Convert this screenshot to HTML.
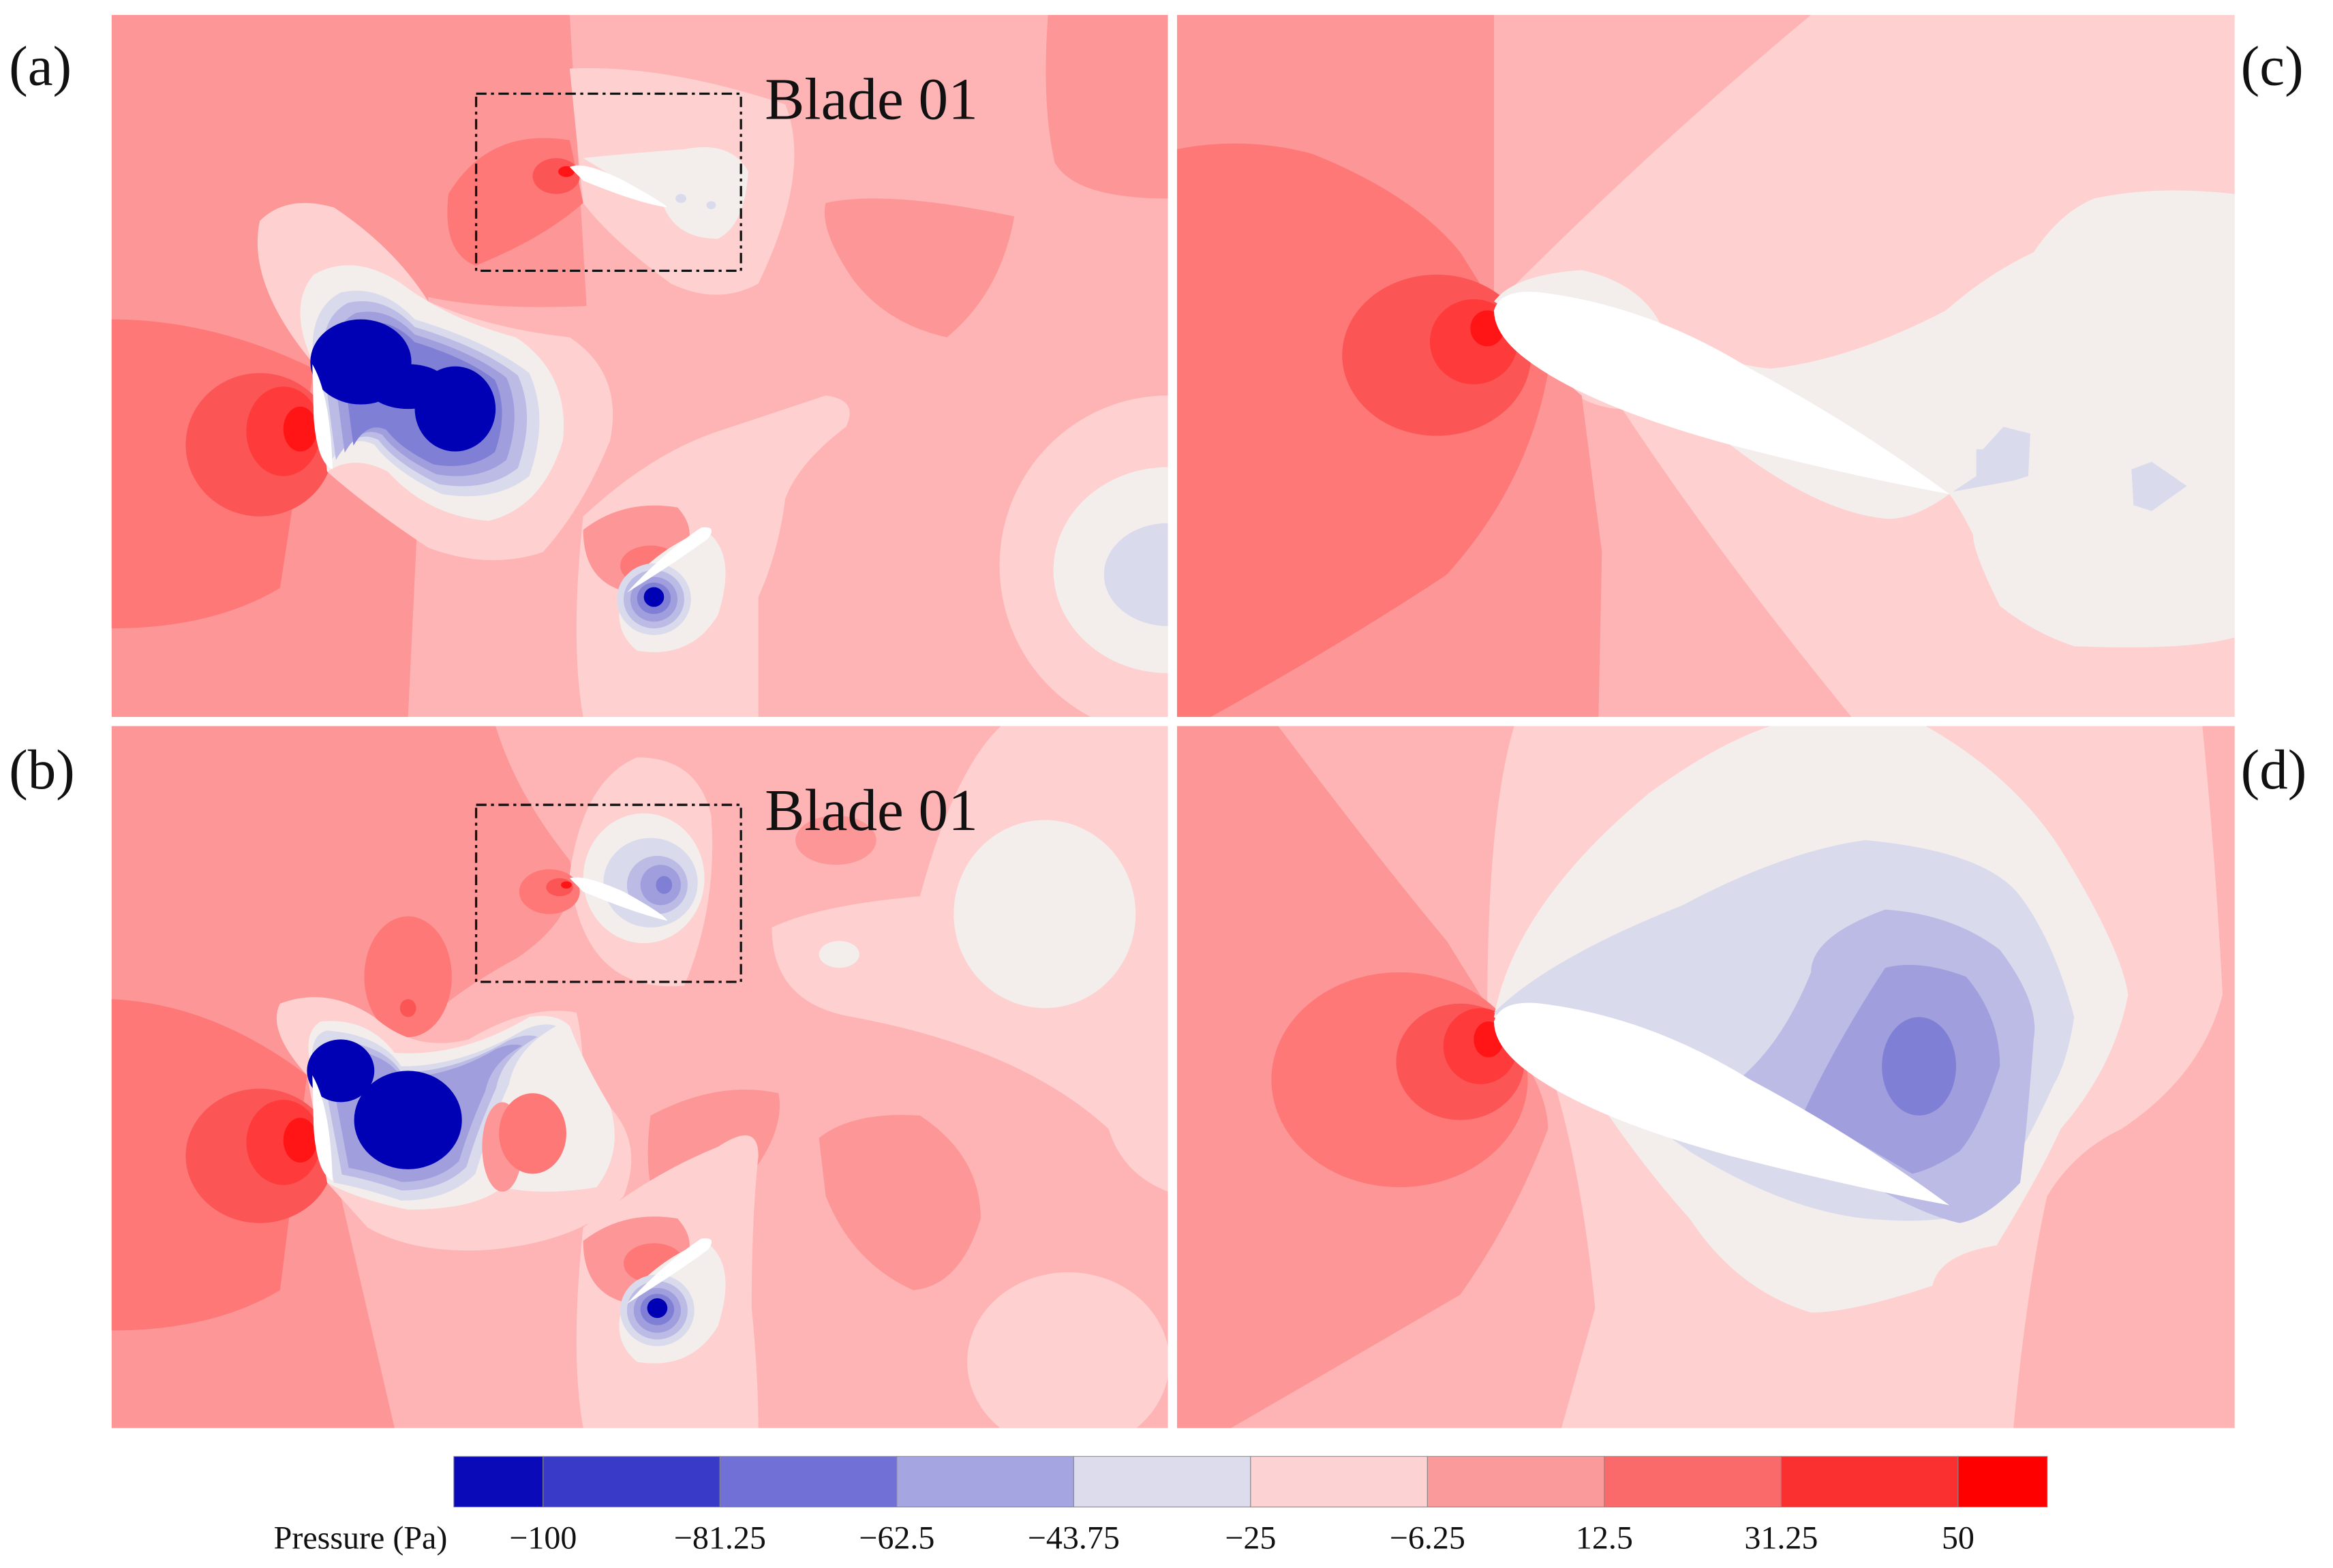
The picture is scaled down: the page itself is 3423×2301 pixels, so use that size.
<!DOCTYPE html>
<html><head><meta charset="utf-8">
<style>
html,body{margin:0;padding:0;background:#fff;}
svg{display:block;}
text{font-family:"Liberation Serif",serif;fill:#111;}
</style></head>
<body>
<svg id="fig" width="3423" height="2301" viewBox="0 0 1568 1054" preserveAspectRatio="none" xmlns="http://www.w3.org/2000/svg">
<defs>
<clipPath id="cz"><rect x="0" y="0" width="1568" height="1568"/></clipPath>
<path id="bladeBig" d="M470 660 Q480 610 540 620 Q700 650 850 790 Q1000 910 1145 1070 Q1000 1030 820 960 Q600 870 510 760 Q470 710 470 660Z" fill="#fff"/>
</defs>

<!-- Panel a -->
<g transform="translate(75,10) scale(0.4528,0.301)" clip-path="url(#cz)">
<rect width="1568" height="1568" fill="#feb4b4"/>
<path d="M0 0 H680 L705 650 Q560 660 470 630 L440 1568 H0Z" fill="#fd9797"/>
<path d="M1390 0 H1568 V410 Q1430 410 1400 330 Q1380 200 1390 0Z" fill="#fd9797"/>
<path d="M1060 420 Q1150 390 1340 450 Q1320 620 1240 720 Q1150 690 1100 590 Q1050 480 1060 420Z" fill="#fd9797"/>
<path d="M0 680 Q150 680 300 790 L250 1280 Q150 1370 0 1370Z" fill="#fe7878"/>
<ellipse cx="220" cy="960" rx="110" ry="160" fill="#fb5555"/>
<ellipse cx="255" cy="930" rx="55" ry="100" fill="#fe3a3a"/>
<ellipse cx="280" cy="925" rx="25" ry="50" fill="#ff1515"/>
<path d="M300 780 Q200 600 220 460 Q260 400 330 430 Q420 520 470 640 Q560 700 680 720 Q760 800 740 950 Q700 1100 640 1200 Q560 1240 470 1190 Q380 1100 320 1020Z" fill="#fed0d0"/>
<path d="M300 780 Q260 650 300 580 Q360 530 430 600 Q500 680 600 720 Q680 800 670 950 Q640 1100 560 1130 Q470 1120 410 1020 Q360 980 320 1020Z" fill="#f3eeec"/>
<g id="blobA">
<path d="M300 780 Q290 660 340 620 Q400 600 450 680 Q560 730 620 800 Q650 900 620 1030 Q570 1090 490 1070 Q420 1020 390 960 Q350 930 320 1010Z" fill="#d9daec"/>
<path transform="translate(450 850) scale(0.9) translate(-450 -850)" d="M300 780 Q290 660 340 620 Q400 600 450 680 Q560 730 620 800 Q650 900 620 1030 Q570 1090 490 1070 Q420 1020 390 960 Q350 930 320 1010Z" fill="#bcbbe5"/>
<path transform="translate(450 850) scale(0.8) translate(-450 -850)" d="M300 780 Q290 660 340 620 Q400 600 450 680 Q560 730 620 800 Q650 900 620 1030 Q570 1090 490 1070 Q420 1020 390 960 Q350 930 320 1010Z" fill="#a09edd"/>
<path transform="translate(450 850) scale(0.7) translate(-450 -850)" d="M300 780 Q290 660 340 620 Q400 600 450 680 Q560 730 620 800 Q650 900 620 1030 Q570 1090 490 1070 Q420 1020 390 960 Q350 930 320 1010Z" fill="#7f7fd6"/>
</g>
<ellipse cx="370" cy="775" rx="75" ry="95" fill="#0000b4"/>
<ellipse cx="510" cy="880" rx="60" ry="95" fill="#0000b4"/>
<ellipse cx="440" cy="830" rx="60" ry="50" fill="#0000b4"/>
<path d="M298 780 Q325 850 328 1015 Q305 1000 300 900Z" fill="#fff"/>
<path d="M680 120 Q820 110 1000 200 Q1040 350 960 600 Q900 650 830 600 Q740 500 700 420Z" fill="#fed0d0"/>
<path d="M680 280 Q560 250 500 400 Q490 530 540 560 Q640 500 700 420Z" fill="#fe7878"/>
<ellipse cx="660" cy="360" rx="35" ry="40" fill="#fb5555"/>
<circle cx="675" cy="350" r="12" fill="#ff1515"/>
<path d="M700 320 Q760 310 850 300 Q920 280 945 350 Q940 470 900 500 Q840 500 820 430Z" fill="#f3eeec"/>
<path d="M680 340 Q700 325 760 370 Q820 420 825 430 Q780 420 700 370Z" fill="#fff"/>
<ellipse cx="845" cy="410" rx="8" ry="10" fill="#d9daec"/>
<ellipse cx="890" cy="425" rx="7" ry="9" fill="#d9daec"/>
<path d="M700 1120 Q800 980 900 930 Q1000 880 1060 850 Q1110 860 1090 920 Q1020 1000 1000 1080 Q990 1200 960 1300 Q960 1450 960 1568 H700 Q680 1400 700 1120Z" fill="#fed0d0"/>
<path d="M700 1150 Q760 1080 840 1100 Q870 1150 850 1200 L770 1290 Q700 1270 700 1150Z" fill="#fd9797"/>
<circle cx="800" cy="1230" r="45" fill="#fe7878"/>
<path d="M760 1290 Q800 1200 880 1150 Q930 1200 900 1340 Q860 1440 780 1420 Q740 1370 760 1290Z" fill="#f3eeec"/>
<ellipse cx="805" cy="1305" rx="55" ry="80" fill="#d9daec"/>
<ellipse cx="805" cy="1305" rx="45" ry="65" fill="#bcbbe5"/>
<ellipse cx="805" cy="1305" rx="35" ry="50" fill="#a09edd"/>
<ellipse cx="805" cy="1303" rx="25" ry="35" fill="#7f7fd6"/>
<ellipse cx="805" cy="1300" rx="15" ry="22" fill="#0000b4"/>
<path d="M765 1290 Q820 1200 875 1145 Q900 1140 885 1170 Q830 1230 765 1290Z" fill="#fff"/>
<ellipse cx="1568" cy="1230" rx="250" ry="380" fill="#fed0d0"/>
<ellipse cx="1568" cy="1240" rx="170" ry="230" fill="#f3eeec"/>
<ellipse cx="1568" cy="1250" rx="95" ry="115" fill="#d9daec"/>
</g>

<!-- Panel b -->
<g transform="translate(75,488) scale(0.4528,0.301)" clip-path="url(#cz)">
<rect width="1568" height="1568" fill="#feb4b4"/>
<path d="M0 0 H570 Q600 150 680 300 Q700 420 600 520 Q500 600 420 720 L300 790 L420 1568 H0Z" fill="#fd9797"/>
<path d="M980 450 Q1050 400 1200 380 Q1250 100 1320 0 H1568 V1040 Q1500 1000 1480 900 Q1350 720 1100 650 Q980 620 980 450Z" fill="#fed0d0"/>
<ellipse cx="1385" cy="420" rx="135" ry="210" fill="#f3eeec"/>
<circle cx="1080" cy="510" r="30" fill="#f3eeec"/>
<ellipse cx="1075" cy="255" rx="60" ry="55" fill="#fd9797"/>
<path d="M1050 920 Q1100 860 1200 870 Q1290 960 1290 1100 Q1260 1250 1190 1260 Q1100 1200 1060 1050Z" fill="#fd9797"/>
<path d="M800 870 Q900 790 990 820 Q1000 900 950 1000 Q870 1100 860 1150 Q780 1100 800 870Z" fill="#fd9797"/>
<ellipse cx="1420" cy="1420" rx="150" ry="200" fill="#fed0d0"/>
<path d="M0 610 Q150 620 290 780 L250 1260 Q150 1350 0 1350Z" fill="#fe7878"/>
<ellipse cx="220" cy="960" rx="110" ry="150" fill="#fb5555"/>
<ellipse cx="255" cy="930" rx="55" ry="95" fill="#fe3a3a"/>
<ellipse cx="280" cy="925" rx="25" ry="50" fill="#ff1515"/>
<ellipse cx="440" cy="560" rx="65" ry="135" fill="#fe7878"/>
<ellipse cx="440" cy="630" rx="12" ry="20" fill="#fb5555"/>
<path d="M680 330 Q700 120 780 70 Q870 70 890 200 Q900 400 850 580 Q700 600 680 330Z" fill="#fed0d0"/>
<ellipse cx="790" cy="340" rx="90" ry="145" fill="#f3eeec"/>
<ellipse cx="800" cy="350" rx="70" ry="100" fill="#d9daec"/>
<ellipse cx="810" cy="355" rx="45" ry="65" fill="#bcbbe5"/>
<ellipse cx="815" cy="355" rx="30" ry="45" fill="#a09edd"/>
<ellipse cx="820" cy="355" rx="12" ry="20" fill="#7f7fd6"/>
<ellipse cx="650" cy="370" rx="45" ry="50" fill="#fe7878"/>
<circle cx="665" cy="360" r="20" fill="#fb5555"/>
<circle cx="675" cy="355" r="8" fill="#ff1515"/>
<path d="M680 340 Q700 330 760 370 Q820 420 825 435 Q780 420 700 370Z" fill="#fff"/>
<path d="M290 780 Q230 680 250 620 Q320 580 390 650 Q450 730 530 700 Q620 620 690 640 Q700 700 700 800 Q800 900 760 1050 Q700 1150 560 1170 Q450 1180 380 1120 L320 1020Z" fill="#fed0d0"/>
<path d="M300 780 Q280 690 310 660 Q380 650 420 730 Q520 740 620 650 Q660 640 680 670 Q700 750 740 850 Q760 950 720 1030 Q640 1050 580 1030 Q540 1080 440 1080 Q370 1060 320 1020Z" fill="#f3eeec"/>
<path d="M300 780 Q290 690 320 680 Q400 690 430 760 Q520 760 610 680 Q640 660 660 670 Q600 720 590 800 Q560 900 540 1000 Q500 1060 430 1060 Q370 1030 330 1020Z" fill="#d9daec"/>
<path transform="translate(430 870) scale(0.88) translate(-430 -870)" d="M300 780 Q290 690 320 680 Q400 690 430 760 Q520 760 610 680 Q640 660 660 670 Q600 720 590 800 Q560 900 540 1000 Q500 1060 430 1060 Q370 1030 330 1020Z" fill="#bcbbe5"/>
<path transform="translate(430 870) scale(0.78) translate(-430 -870)" d="M300 780 Q290 690 320 680 Q400 690 430 760 Q520 760 610 680 Q640 660 660 670 Q600 720 590 800 Q560 900 540 1000 Q500 1060 430 1060 Q370 1030 330 1020Z" fill="#a09edd"/>
<ellipse cx="340" cy="770" rx="50" ry="70" fill="#0000b4"/>
<ellipse cx="440" cy="880" rx="80" ry="110" fill="#0000b4"/>
<ellipse cx="580" cy="940" rx="30" ry="100" fill="#fd9797"/>
<ellipse cx="625" cy="910" rx="50" ry="90" fill="#fe7878"/>
<path d="M298 780 Q325 850 328 1015 Q305 1000 300 900Z" fill="#fff"/>
<path d="M700 1120 Q800 1000 900 940 Q960 880 960 960 Q950 1100 950 1300 Q960 1450 960 1568 H700 Q680 1400 700 1120Z" fill="#fed0d0"/>
<path d="M700 1150 Q760 1080 840 1100 Q870 1150 850 1200 L770 1290 Q700 1270 700 1150Z" fill="#fd9797"/>
<circle cx="805" cy="1200" r="45" fill="#fe7878"/>
<path d="M760 1290 Q800 1200 880 1150 Q930 1200 900 1340 Q860 1440 780 1420 Q740 1370 760 1290Z" fill="#f3eeec"/>
<ellipse cx="810" cy="1305" rx="55" ry="80" fill="#d9daec"/>
<ellipse cx="810" cy="1305" rx="45" ry="65" fill="#bcbbe5"/>
<ellipse cx="810" cy="1305" rx="35" ry="50" fill="#a09edd"/>
<ellipse cx="810" cy="1303" rx="25" ry="35" fill="#7f7fd6"/>
<ellipse cx="810" cy="1300" rx="15" ry="22" fill="#0000b4"/>
<path d="M765 1290 Q820 1200 875 1145 Q900 1140 885 1170 Q830 1230 765 1290Z" fill="#fff"/>
</g>

<!-- Panel c -->
<g transform="translate(791,10) scale(0.4534,0.301)" clip-path="url(#cz)">
<rect width="1568" height="1568" fill="#fed0d0"/>
<path d="M0 0 H940 Q700 300 470 650 L0 650Z" fill="#feb4b4"/>
<path d="M400 700 L530 780 Q600 880 660 880 Q800 1200 1000 1568 H400Z" fill="#feb4b4"/>
<path d="M0 0 H470 L470 650 Q560 800 600 850 L630 1200 L625 1568 H0Z" fill="#fd9797"/>
<path d="M0 300 Q100 270 200 310 Q350 400 420 530 L470 650 Q540 760 550 800 Q520 1050 400 1250 Q250 1400 50 1568 H0Z" fill="#fe7878"/>
<ellipse cx="385" cy="760" rx="140" ry="180" fill="#fb5555"/>
<ellipse cx="440" cy="730" rx="65" ry="95" fill="#fe3a3a"/>
<ellipse cx="460" cy="700" rx="25" ry="40" fill="#ff1515"/>
<path d="M470 640 Q500 580 600 570 Q690 600 720 700 Q800 780 880 790 Q1000 770 1140 660 Q1200 580 1270 530 Q1310 440 1360 410 Q1450 380 1568 400 V1390 Q1500 1420 1330 1410 Q1270 1380 1220 1320 Q1180 1200 1180 1160 Q1160 1100 1145 1070 Q1090 1130 1050 1125 Q950 1110 820 960Z" fill="#f3eeec"/>
<use href="#bladeBig"/>
<path d="M1195 970 L1225 920 L1265 935 L1262 1030 L1240 1040 L1150 1065 L1185 1030 L1185 970Z" fill="#d9daec"/>
<path d="M1415 1015 L1445 998 L1497 1052 L1445 1108 L1418 1095Z" fill="#d9daec"/>
</g>

<!-- Panel d -->
<g transform="translate(791,488) scale(0.4534,0.301)" clip-path="url(#cz)">
<rect width="1568" height="1568" fill="#fed0d0"/>
<path d="M0 0 H500 Q460 200 460 640 L560 800 Q600 1000 620 1300 L570 1568 H0Z" fill="#feb4b4"/>
<path d="M1520 0 H1568 V1568 H1240 Q1260 1250 1290 1050 Q1330 950 1400 900 Q1520 780 1550 600 Q1540 300 1520 0Z" fill="#feb4b4"/>
<path d="M0 0 H150 Q300 300 400 480 L470 650 Q550 800 550 900 Q500 1100 420 1270 Q250 1420 80 1568 H0Z" fill="#fd9797"/>
<ellipse cx="330" cy="790" rx="190" ry="240" fill="#fe7878"/>
<ellipse cx="420" cy="750" rx="95" ry="130" fill="#fb5555"/>
<ellipse cx="450" cy="715" rx="55" ry="85" fill="#fe3a3a"/>
<ellipse cx="462" cy="700" rx="22" ry="40" fill="#ff1515"/>
<path d="M470 650 Q500 400 700 150 Q800 40 880 0 H1110 Q1250 120 1320 300 Q1400 500 1410 600 Q1390 760 1310 900 Q1280 1000 1215 1160 Q1130 1180 1120 1250 Q1000 1310 940 1310 Q830 1260 760 1100 Q700 1000 640 870Z" fill="#f3eeec"/>
<path d="M470 640 Q550 520 750 400 Q900 280 1020 255 Q1200 280 1250 380 Q1300 480 1330 650 Q1320 750 1300 800 Q1240 1000 1180 1100 Q1150 1110 1140 1100 Q1090 1110 1020 1100 Q900 1080 760 950Z" fill="#d9daec"/>
<path d="M840 780 Q900 700 940 550 Q940 470 1050 410 Q1150 420 1220 500 Q1280 620 1270 700 Q1260 900 1250 1020 Q1200 1100 1160 1110 Q1100 1090 1000 1000Z" fill="#bcbbe5"/>
<path d="M930 860 Q980 700 1050 540 Q1100 520 1170 560 Q1220 650 1220 760 Q1190 900 1160 950 Q1120 990 1090 1000Z" fill="#a09edd"/>
<ellipse cx="1100" cy="760" rx="55" ry="110" fill="#7f7fd6"/>
<use href="#bladeBig"/>
</g>

<!-- Panel separators -->
<rect x="785" y="10" width="6" height="950" fill="#fff"/>
<rect x="75" y="482" width="1427" height="6" fill="#fff"/>

<!-- Dashed boxes -->
<rect x="320" y="63" width="178" height="119" fill="none" stroke="#111" stroke-width="1.5" stroke-dasharray="7,3,2,3"/>
<rect x="320" y="541" width="178" height="119" fill="none" stroke="#111" stroke-width="1.5" stroke-dasharray="7,3,2,3"/>
<text x="514" y="80" font-size="40">Blade 01</text>
<text x="514" y="558" font-size="40">Blade 01</text>
<text x="6" y="57" font-size="38">(a)</text>
<text x="6" y="530" font-size="38">(b)</text>
<text x="1506" y="57" font-size="38">(c)</text>
<text x="1506" y="530" font-size="38">(d)</text>

<g id="cbar"></g>
<text x="184" y="1041" font-size="22">Pressure (Pa)</text>
</svg>
<script>
const levels = [-100, -81.25, -62.5, -43.75, -25, -6.25, 12.5, 31.25, 50];
const tickLabels = ["\u2212100", "\u221281.25", "\u221262.5", "\u221243.75", "\u221225", "\u22126.25", "12.5", "31.25", "50"];
const bandColors = ["#0a0ab8", "#3a3ac8", "#7070d6", "#a5a5e2", "#dcdced", "#fdd2d2", "#fa9a9a", "#fa6a6a", "#fa3030", "#ff0000"];
(function(){
  const ns = "http://www.w3.org/2000/svg";
  const g = document.getElementById('cbar');
  const x0 = 365, x1 = 1316, y = 979, h = 34, ext = 60;
  const sx = v => x0 + (v - levels[0]) / (levels[levels.length-1] - levels[0]) * (x1 - x0);
  const bounds = [sx(levels[0]) - ext].concat(levels.map(sx)).concat([sx(levels[levels.length-1]) + ext]);
  for (let i = 0; i < bandColors.length; i++) {
    const r = document.createElementNS(ns, 'rect');
    r.setAttribute('x', bounds[i]); r.setAttribute('y', y);
    r.setAttribute('width', bounds[i+1] - bounds[i]); r.setAttribute('height', h);
    r.setAttribute('fill', bandColors[i]);
    r.setAttribute('stroke', '#888'); r.setAttribute('stroke-width', '0.5');
    
    
    g.appendChild(r);
  }
  levels.forEach((v, i) => {
    const t = document.createElementNS(ns, 'text');
    t.setAttribute('x', sx(v)); t.setAttribute('y', 1041);
    t.setAttribute('text-anchor', 'middle'); t.setAttribute('font-size', '22');
    t.textContent = tickLabels[i];
    
    
    g.appendChild(t);
  });
})();
</script>
</body></html>
